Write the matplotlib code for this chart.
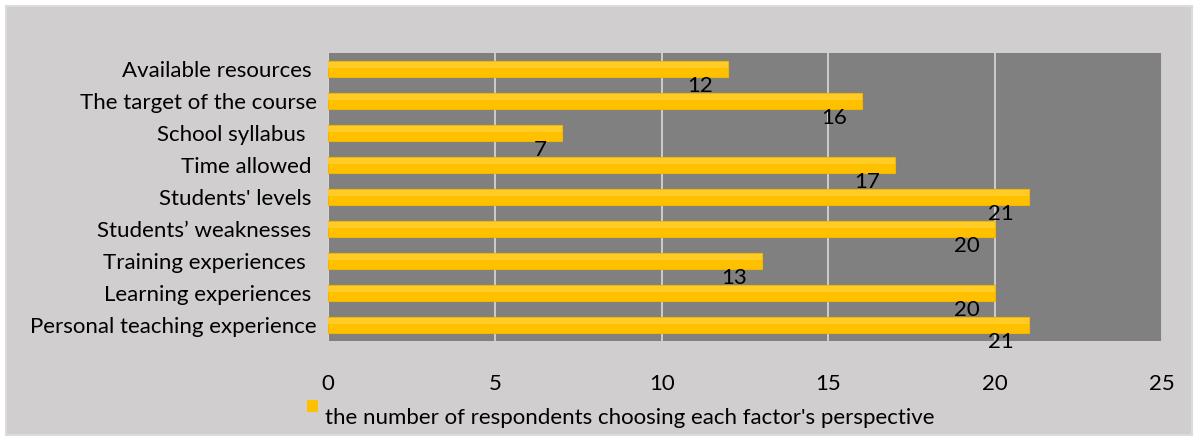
import numpy as np
import matplotlib.pyplot as plt
from matplotlib.patches import Rectangle

factors = ["Personal teaching experience", "Learning experiences ", "Training experiences  ",
           "Students\u2019 weaknesses ", "Students' levels ", "Time allowed ",
           "School syllabus  ", "The target of the course", "Available resources "]
counts = [21, 20, 13, 20, 21, 17, 7, 16, 12]
xticks = [0, 5, 10, 15, 20, 25]
series_name = "the number of respondents choosing each factor's perspective"

plt.rcParams['font.family'] = ['Lato', 'DejaVu Sans']
FS = 16
W, H = 1196, 441
fig = plt.figure(figsize=(W / 100, H / 100), dpi=100, facecolor='white')
# chart area background with thin border
bg = Rectangle((6 / W, 6 / H), (W - 10) / W, (H - 12) / H, transform=fig.transFigure,
               facecolor='#d0cece', edgecolor='#dcdcdc', linewidth=1.5, zorder=-10)
fig.add_artist(bg)

ax = fig.add_axes([328 / W, 100 / H, 834 / W, 288 / H])
ax.set_facecolor('#808080')
y = np.arange(len(factors))
ax.barh(y, counts, height=0.5, color='#ffc000', edgecolor='#f2b600', linewidth=0.8, zorder=3)
# lighter top stripe to hint the gradient
ax.barh(y + 0.125, counts, height=0.2, color='#ffcc26', linewidth=0, zorder=3)

ax.set_xlim(0, 25)
ax.set_ylim(-0.5, len(factors) - 0.5)
ax.set_xticks(xticks)
ax.set_xticklabels([str(t) for t in xticks], fontsize=FS)
ax.set_yticks(y)
ax.set_yticklabels(factors, fontsize=FS)
ax.tick_params(axis='x', length=0, pad=24)
ax.tick_params(axis='y', length=0, pad=8)
ax.grid(axis='x', color='#d9d9d9', linewidth=1.2, zorder=1)
for s in ax.spines.values():
    s.set_visible(False)
ax.axvline(0, color='#d9d9d9', linewidth=1.2, zorder=2)

for yi, v in zip(y, counts):
    ax.annotate(str(v), (v, yi), xytext=(-15, -17), textcoords='offset pixels',
                ha='right', va='center', fontsize=FS, color='black', zorder=4)

# legend
fig.add_artist(Rectangle((307 / W, (H - 412) / H), 11 / W, 12 / H, transform=fig.transFigure,
                         facecolor='#ffc000', edgecolor='none'))
fig.text(325 / W, (H - 418) / H, series_name, fontsize=FS, va='center', ha='left')

fig.savefig('out.png', dpi=100, facecolor=fig.get_facecolor())
